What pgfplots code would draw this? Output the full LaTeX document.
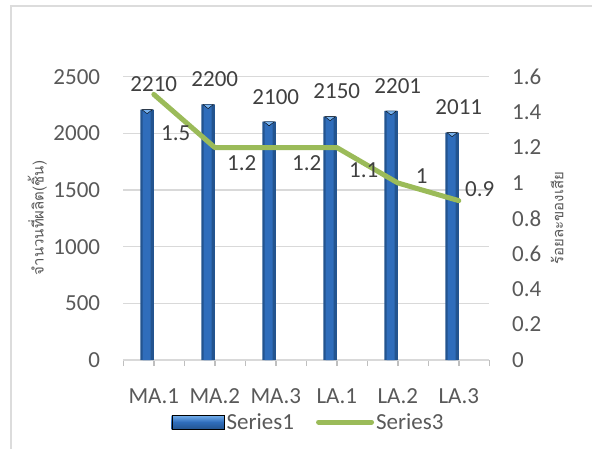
\documentclass[border=0pt]{standalone}
\usepackage{pgfplots}
\usepackage{pgfplotstable}
\pgfplotsset{compat=1.18}
\usepackage{fontspec}
\setmainfont{Carlito}
\newfontfamily\thaifont[Script=Thai]{Loma}
\definecolor{txt}{HTML}{595959}
\definecolor{lbl}{HTML}{404040}
\definecolor{gridc}{HTML}{D9D9D9}
\definecolor{tickc}{HTML}{BFBFBF}
\definecolor{bordc}{HTML}{DCDCDC}
\definecolor{barD}{HTML}{23548F}
\definecolor{barM}{HTML}{2F6DBB}
\definecolor{barL}{HTML}{78B2EE}
\definecolor{lineg}{HTML}{9BBB59}

\pgfplotstableread{
x y label
0 2210 2210
1 2255 2200
2 2103 2100
3 2148 2150
4 2198 2201
5 2007 2011
}\bars
\pgfplotstableread{
x y label dx dy
0 1.5 1.5 22 -39
1 1.2 1.2 27 -16
2 1.2 1.2 31 -16
3 1.2 1.1 27 -23
4 1.0 1 24 7
5 0.9 0.9 21 12
}\rates

\begin{document}
\begin{tikzpicture}[font=\fontsize{23}{27}\selectfont]
\useasboundingbox (-123.3pt,-88pt) rectangle (468.7pt,360pt);
\draw[bordc, line width=2pt] (-112.3pt,-120pt) -- (-112.3pt,354pt) -- (500pt,354pt);
\begin{axis}[
  scale only axis, width=366pt, height=283.3pt,
  clip=false,
  xmin=-0.5, xmax=5.5, ymin=0, ymax=2500,
  axis x line*=bottom, axis y line*=left,
  x axis line style={draw=gridc, line width=1.5pt},
  y axis line style={draw=none},
  ytick={0,500,1000,1500,2000,2500},
  yticklabels={0,500,1000,1500,2000,2500},
  ymajorgrids, grid style={gridc, line width=1.5pt},
  xtick={-0.5,0,0.5,1,1.5,2,2.5,3,3.5,4,4.5,5,5.5},
  xticklabels={,MA.1,,MA.2,,MA.3,,LA.1,,LA.2,,LA.3,},
  xtick align=outside,
  xtick style={draw=tickc, line width=1.5pt},
  ytick style={draw=none},
  major tick length=6pt,
  tick label style={text=txt},
  /pgf/number format/assume math mode=true,
  yticklabel style={anchor=east, inner sep=0pt, xshift=-23pt},
  xticklabel style={anchor=center, inner sep=0pt, yshift=-30pt},
  ylabel={\thaifont\fontsize{15}{17}\selectfont จำนวนที่ผลิต(ชิ้น)},
  ylabel style={at={(axis description cs:-0.235,0.501)}, anchor=center, text=txt},
]
\addplot[ybar, bar width=13.3pt, bar shift=-6.67pt, draw=none, fill=barD,
  nodes near coords, point meta=explicit symbolic,
  every node near coord/.append style={anchor=center, yshift=25pt, text=lbl}]
  table[x=x,y=y,meta=label]{\bars};
\addplot[ybar, bar width=8pt, bar shift=-7.2pt, draw=none, fill=barM]
  table[x=x,y=y]{\bars};
\addplot[only marks, mark=triangle*, mark size=6pt,
  mark options={xshift=-6.67pt, yshift=-1.4pt, rotate=180, yscale=0.45, fill=barL, draw=none}]
  table[x=x,y=y]{\bars};
\end{axis}
\begin{axis}[
  scale only axis, width=366pt, height=283.3pt,
  clip=false,
  xmin=-0.5, xmax=5.5, ymin=0, ymax=1.6,
  hide x axis,
  axis y line*=right,
  y axis line style={draw=none},
  ytick={0,0.2,0.4,0.6,0.8,1,1.2,1.4,1.6},
  yticklabels={0,0.2,0.4,0.6,0.8,1,1.2,1.4,1.6},
  ytick style={draw=none},
  major tick length=0pt,
  tick label style={text=txt},
  /pgf/number format/assume math mode=true,
  yticklabel style={anchor=west, inner sep=0pt, xshift=22.7pt},
  ylabel={\thaifont\fontsize{15}{17}\selectfont ร้อยละของเสีย},
  ylabel style={at={(axis description cs:1.185,0.501)}, anchor=center, rotate=0, text=txt},
  legend style={at={(axis description cs:0.506,-0.219)}, anchor=center, draw=none, fill=none,
     legend columns=-1, text=txt, inner sep=0pt, nodes={inner sep=2pt},
     /tikz/every even column/.append style={column sep=20pt}},
  legend cell align=left,
]
\addlegendimage{legend image code/.code={
  \shade[top color=barL, bottom color=barD, middle color=barM] (0pt,-7pt) rectangle (52.7pt,7pt);}}
\addlegendentry{Series1}
\addplot[lineg, line width=5pt, line cap=round, line join=round,
  nodes near coords, point meta=explicit symbolic,
  visualization depends on={\thisrow{dx} \as \dx},
  visualization depends on={\thisrow{dy} \as \dy},
  every node near coord/.append style={anchor=center, xshift=\dx pt, yshift=\dy pt, text=lbl},
  legend image code/.code={\draw[lineg, line width=5pt, line cap=round] (2.5pt,0pt) -- (55.5pt,0pt);}]
  table[x=x,y=y,meta=label]{\rates};
\addlegendentry{Series3}
\end{axis}
\end{tikzpicture}
\end{document}
